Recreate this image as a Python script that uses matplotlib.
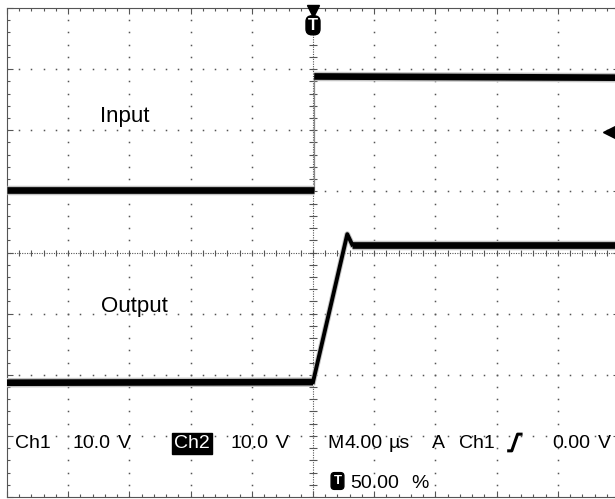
import numpy as np
import matplotlib
matplotlib.use("Agg")
import matplotlib.pyplot as plt
from matplotlib.path import Path

plt.rcParams['font.family'] = ['Liberation Sans', 'DejaVu Sans']

# ---- data (time in microseconds, 4 us/div, amplitude in screen divisions) ----
input_t = [-20.0, 0.08, 0.08, 20.0]
input_v = [5.02, 5.02, 6.88, 6.86]

output_t = [-20.0, 0.0, 2.24, 2.56, 20.0]
output_v = [1.87, 1.88, 4.30, 4.13, 4.13]

labels_trace = ["Input", "Output"]
status_line1 = ["Ch1", "10.0", "V", "Ch2", "10.0", "V", "M", "4.00", "µs", "A", "Ch1", "0.00", "V"]
status_line2 = ["50.00", "%"]

# ---- figure ----
W, H = 615, 499
fig = plt.figure(figsize=(W / 100, H / 100), dpi=100)
fig.patch.set_facecolor('white')
# grid area: x 7..619 px, y 8..497 px
ax = fig.add_axes([7 / W, 2 / H, 612 / W, 489 / H])
ax.set_xlim(-20, 20)
ax.set_ylim(0, 8)
ax.set_facecolor('white')

DX = 61.2  # px per division horizontally
DY = 61.1  # px per division vertically


def P(px, py):
    """pixel position -> data position (for annotations)"""
    return ((px - 7) / DX * 4 - 20, (497 - py) / DY)


gcol = '#555555'
# dotted grid lines (dots every 0.2 div)
yy = np.arange(0, 8.0001, 0.2)
xx = np.arange(-20, 20.0001, 0.8)
for gx in np.arange(-16, 20, 4):
    if abs(gx) < 1e-9:
        continue
    ax.plot(np.full_like(yy, gx), yy, ls='none', marker='s', ms=1.1, mew=0, color=gcol, zorder=1)
for gy in range(1, 8):
    if gy == 4:
        continue
    ax.plot(xx, np.full_like(xx, gy), ls='none', marker='s', ms=1.1, mew=0, color=gcol, zorder=1)

# centre cross with fine ticks
ax.plot([-20, 20], [4, 4], ls=(0, (1, 1.2)), lw=0.8, color=gcol, zorder=1)
ax.plot([0, 0], [0, 8], ls=(0, (1, 1.2)), lw=0.8, color=gcol, zorder=1)
ax.plot(xx, np.full_like(xx, 4), ls='none', marker='|', ms=5, mew=0.8, color=gcol, zorder=1)
ax.plot(np.zeros_like(yy), yy, ls='none', marker='_', ms=6, mew=0.8, color=gcol, zorder=1)

# border
for s in ax.spines.values():
    s.set_linestyle((0, (1, 1)))
    s.set_color(gcol)
    s.set_linewidth(0.8)
ax.set_xticks(np.arange(-20, 20.001, 4))
ax.set_yticks(np.arange(0, 8.001, 1))
ax.set_xticks(xx, minor=True)
ax.set_yticks(yy, minor=True)
ax.tick_params(which='both', direction='in', top=True, right=True, bottom=True, left=True,
               labelbottom=False, labelleft=False, color=gcol, width=0.8)
ax.tick_params(which='major', length=4)
ax.tick_params(which='minor', length=2.5)

# ---- traces ----
fuzz = dict(color='#c4c4c4', lw=6.8, solid_capstyle='butt', zorder=3)
core = dict(color='black', lw=4.8, solid_capstyle='butt', zorder=4)

# input: flat parts thick, fast edge faint
ax.plot(input_t[0:2], input_v[0:2], **fuzz)
ax.plot(input_t[2:4], input_v[2:4], **fuzz)
ax.plot(input_t[0:2], input_v[0:2], **core)
ax.plot(input_t[2:4], input_v[2:4], **core)
ax.plot(input_t[1:3], input_v[1:3], color='#888888', lw=0.9, zorder=3)

# output
ax.plot(output_t[1:4], output_v[1:4], color='#c4c4c4', lw=4.2, zorder=3, solid_joinstyle='round')
ax.plot(output_t[1:4], output_v[1:4], color='black', lw=2.8, zorder=4, solid_joinstyle='round')
ax.plot(output_t[0:2], output_v[0:2], **fuzz)
ax.plot(output_t[3:5], output_v[3:5], **fuzz)
ax.plot(output_t[0:2], output_v[0:2], **core)
ax.plot(output_t[3:5], output_v[3:5], **core)

# ---- trace labels ----
ax.text(*P(100, 121.7), labels_trace[0], fontsize=16, ha='left', va='baseline', zorder=6)
ax.text(*P(101.5, 311.7), labels_trace[1], fontsize=16, ha='left', va='baseline', zorder=6)

# ---- trigger marker at top ----
ax.plot(*P(313, 11), marker='v', ms=8, color='black', clip_on=False, zorder=6)
ax.text(*P(313, 25.5), 'T', color='white', fontsize=12, fontweight='bold', ha='center', va='center',
        bbox=dict(boxstyle='round,pad=0.12,rounding_size=0.35', fc='black', ec='black'), zorder=6)

# trigger level arrow at right
ax.plot(*P(609, 132), marker='<', ms=8, color='black', clip_on=False, zorder=6)
tx0, ty0 = P(609, 132)
tx1, _ = P(625, 132)
ax.plot([tx0, tx1], [ty0, ty0], color='black', lw=1.4, zorder=6, clip_on=False)

# ---- status text ----
fs = 14
BL1 = 448
BL2 = 488
xpos1 = [15, 73, 118, 174, 231, 276, 327, 345, 389, 432, 459, 552, 598]
for s, px in zip(status_line1, xpos1):
    if s == "Ch2":
        ax.text(*P(px, BL1), s, fontsize=fs, ha='left', va='baseline', color='white', zorder=6,
                bbox=dict(boxstyle='square,pad=0.12', fc='black', ec='black'))
    else:
        ax.text(*P(px, BL1), s, fontsize=fs, ha='left', va='baseline', color='black', zorder=6)

# rising-edge trigger slope symbol
slope = Path([(-1.0, -1.0), (-0.45, -1.0), (0.25, 1.0), (0.85, 1.0)],
             [Path.MOVETO, Path.LINETO, Path.LINETO, Path.LINETO])
ax.plot(*P(515, 442), marker=slope, ms=12, mew=2.2, mfc='none', mec='black', zorder=6)

# second line
ax.text(*P(337.5, 481), 'T', color='white', fontsize=9.5, fontweight='bold', ha='center', va='center',
        bbox=dict(boxstyle='round,pad=0.18,rounding_size=0.25', fc='black', ec='black'), zorder=6)
for s, px in zip(status_line2, [350, 411]):
    ax.text(*P(px, BL2), s, fontsize=fs, ha='left', va='baseline', color='black', zorder=6)

fig.savefig('out.png', dpi=100)
